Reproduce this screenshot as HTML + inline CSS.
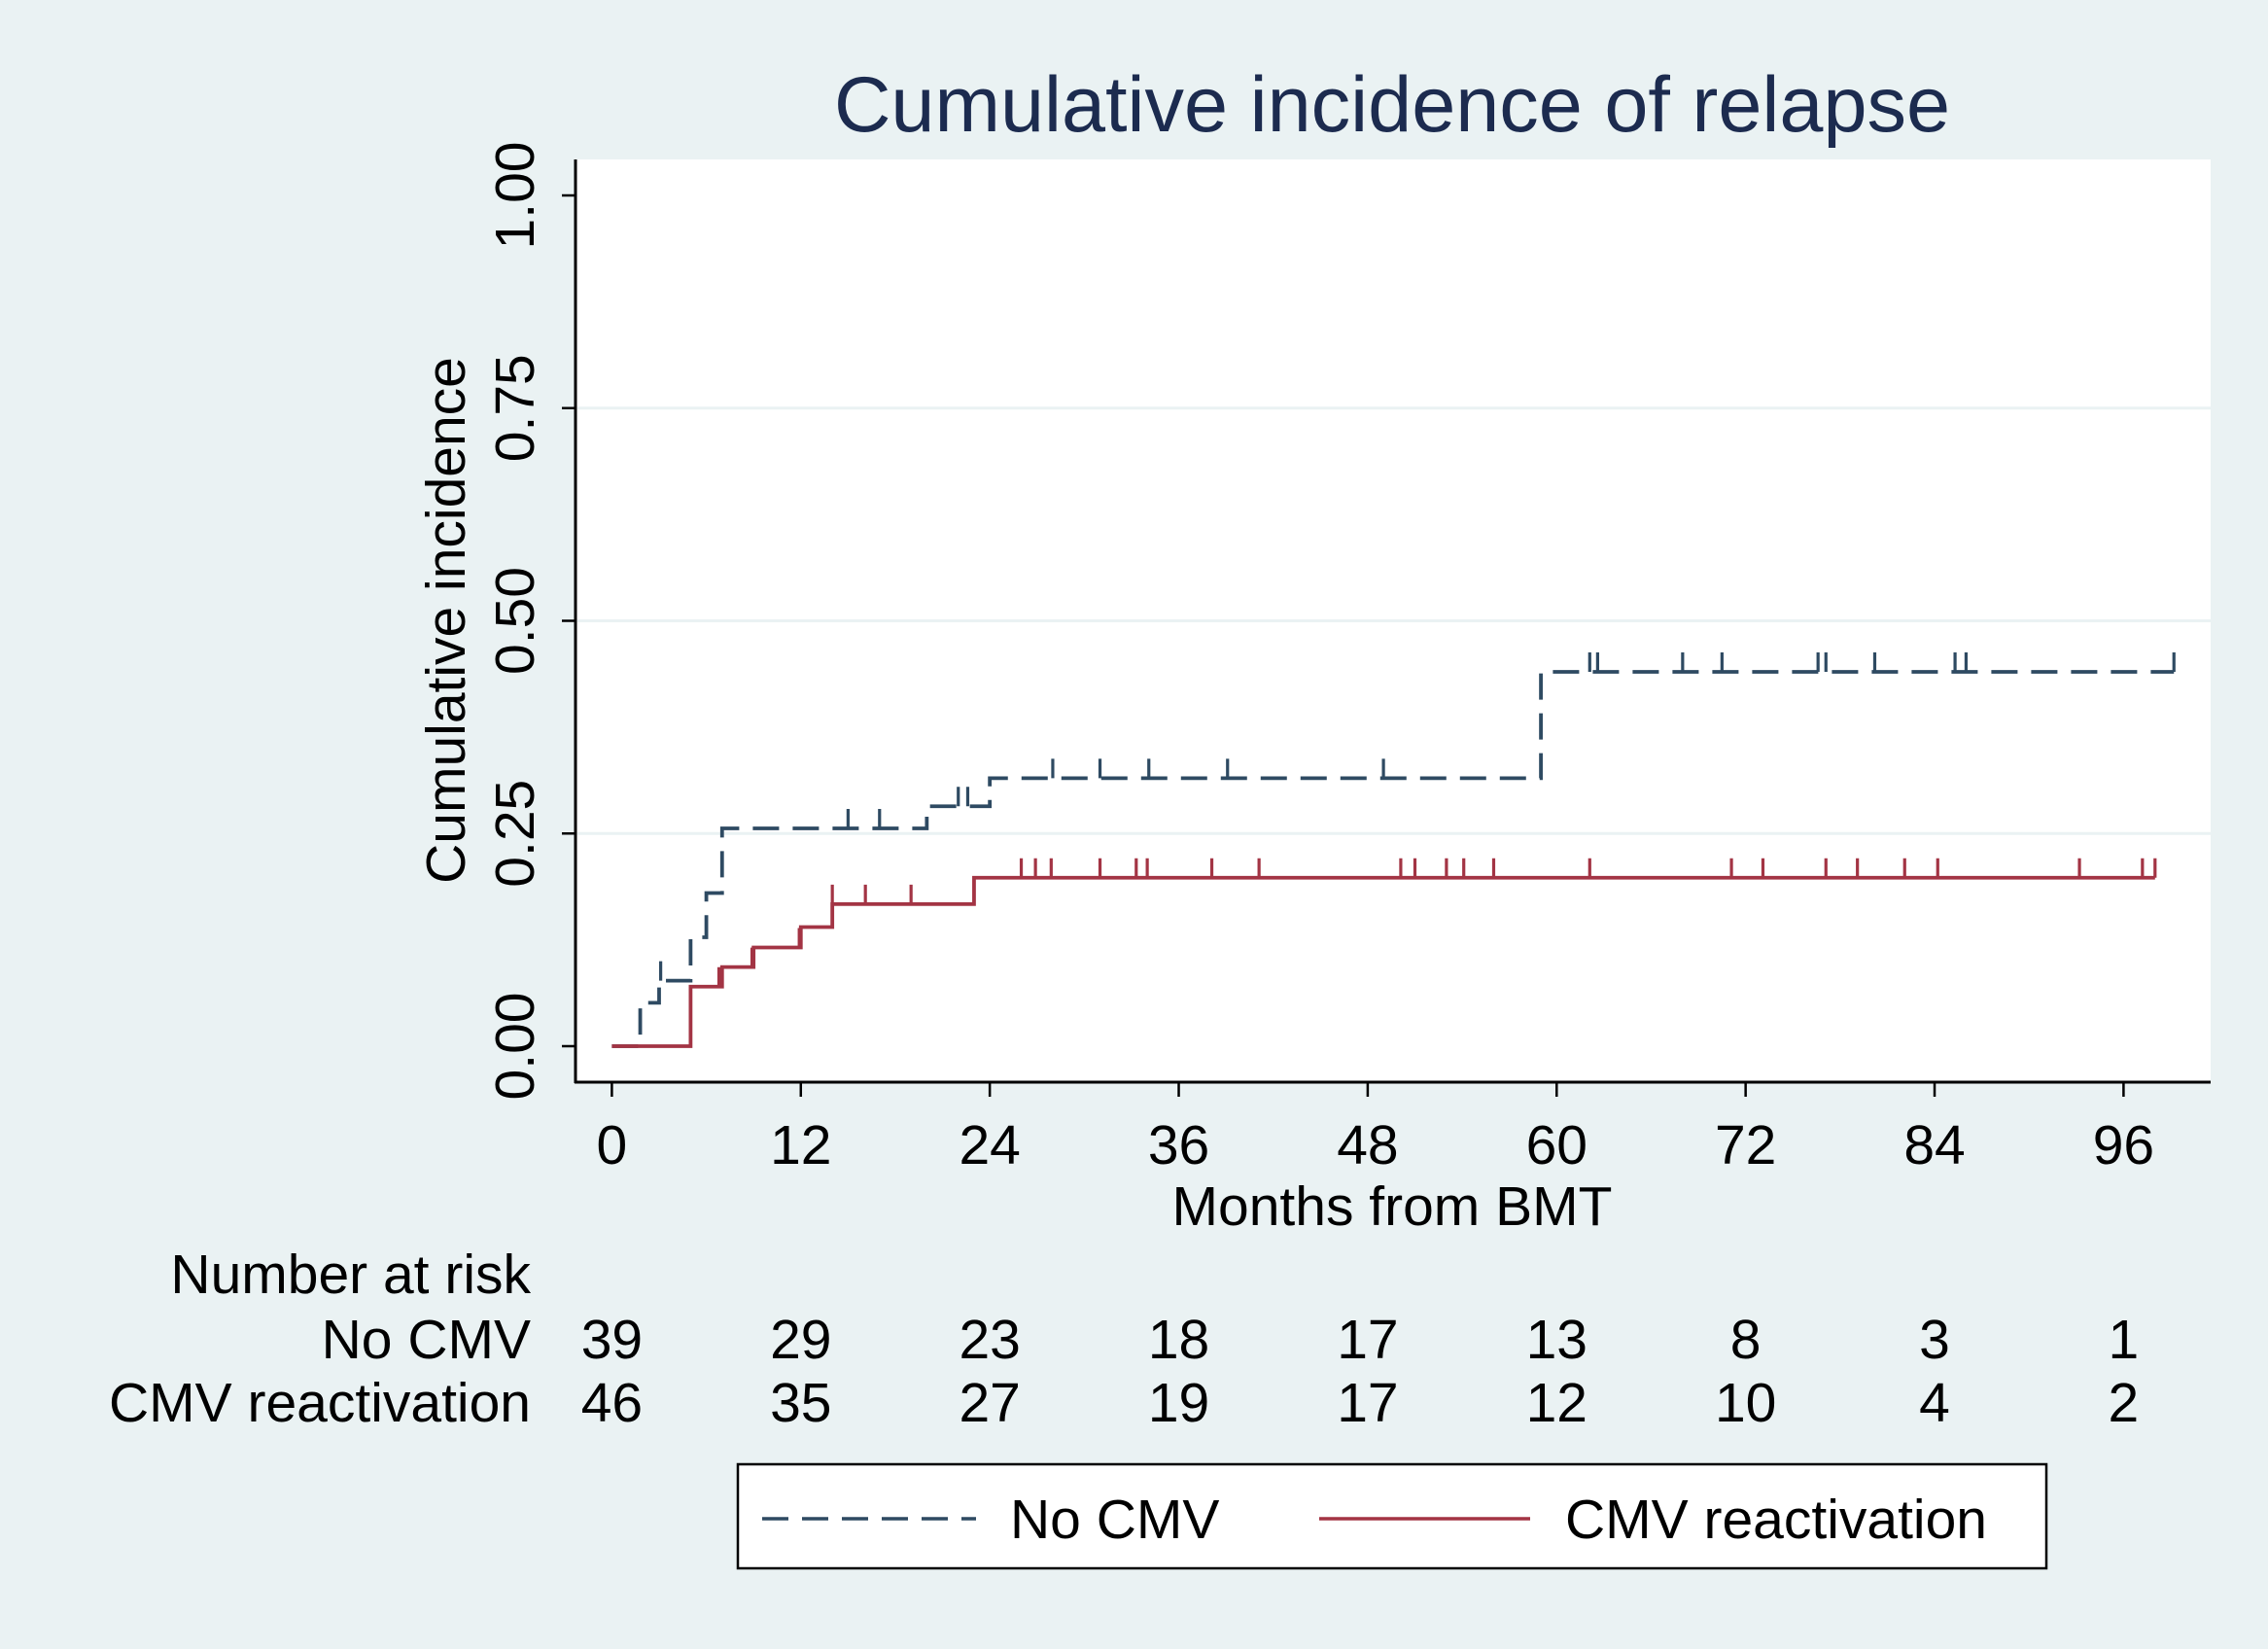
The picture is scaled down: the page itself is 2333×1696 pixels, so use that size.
<!DOCTYPE html>
<html><head><meta charset="utf-8"><style>
html,body{margin:0;padding:0;background:#eaf2f3;}
svg{display:block;font-family:"Liberation Sans",sans-serif;}
</style></head><body>
<svg id="chart" width="2333" height="1696" viewBox="0 0 2333 1696">
<rect x="0" y="0" width="2333" height="1696" fill="#eaf2f3"/>
<rect x="592" y="164" width="1682" height="949" fill="#ffffff"/>
<text x="1432" y="135" font-size="81" fill="#1c2b4f" text-anchor="middle">Cumulative incidence of relapse</text>
<g id="grid"></g>
<g id="yaxis"></g>
<g id="xaxis"></g>
<g id="series"></g>
<text transform="translate(478,638) rotate(-90)" font-size="57" fill="#000" text-anchor="middle">Cumulative incidence</text>
<text x="1432" y="1260" font-size="57" fill="#000" text-anchor="middle">Months from BMT</text>
<text x="546" y="1330" font-size="57" fill="#000" text-anchor="end">Number at risk</text>
<text x="546" y="1397" font-size="57" fill="#000" text-anchor="end">No CMV</text>
<text x="546" y="1462" font-size="57" fill="#000" text-anchor="end">CMV reactivation</text>
<g id="risk"></g>
<g>
<rect x="759" y="1506" width="1346" height="107" fill="#fff" stroke="#000" stroke-width="2.5"/>
<line x1="784" y1="1562" x2="1004" y2="1562" stroke="#2e4a62" stroke-width="3.5" stroke-dasharray="27 14"/>
<text x="1039" y="1582" font-size="57">No CMV</text>
<line x1="1357" y1="1562" x2="1574" y2="1562" stroke="#a33444" stroke-width="3.5"/>
<text x="1610" y="1582" font-size="57">CMV reactivation</text>
</g>
</svg>
<script>
const yTicks = [0, 0.25, 0.5, 0.75, 1];
const yTickLabels = ["0.00", "0.25", "0.50", "0.75", "1.00"];
const xTicks = [0, 12, 24, 36, 48, 60, 72, 84, 96];
const noCmvTimes = [0, 1.8, 3.0, 5.0, 6.0, 7.0, 20.0, 24.0, 59.0, 99.2];
const noCmvValues = [0, 0.051, 0.077, 0.128, 0.18, 0.256, 0.282, 0.315, 0.44, 0.44];
const noCmvCensor = [3.1, 15.0, 17.0, 22.0, 22.6, 28.0, 31.0, 34.1, 39.1, 49.0, 62.1, 62.6, 68.0, 70.5, 76.6, 77.1, 80.2, 85.3, 86.0, 99.2];
const cmvTimes = [0, 5.0, 7.0, 9.0, 12.0, 14.0, 23.0, 98.0];
const cmvValues = [0, 0.07, 0.093, 0.116, 0.14, 0.167, 0.198, 0.198];
const cmvCensor = [6.8, 8.9, 11.9, 14.0, 16.1, 19.0, 26.0, 26.9, 27.9, 31.0, 33.3, 34.0, 38.1, 41.1, 50.1, 51.0, 53.0, 54.1, 56.0, 62.1, 71.1, 73.1, 77.1, 79.1, 82.1, 84.2, 93.2, 97.2, 98.0];
const riskNoCmv = [39, 29, 23, 18, 17, 13, 8, 3, 1];
const riskCmv = [46, 35, 27, 19, 17, 12, 10, 4, 2];

const NS = "http://www.w3.org/2000/svg";
const X = t => 629.4 + (t / 96) * (2184.4 - 629.4);
const Y = v => 1076 - v * (1076 - 201);
function mk(tag, attrs, parent) {
  const e = document.createElementNS(NS, tag);
  for (const k in attrs) e.setAttribute(k, attrs[k]);
  parent.appendChild(e);
  return e;
}
const grid = document.getElementById('grid');
const yaxis = document.getElementById('yaxis');
const xaxis = document.getElementById('xaxis');
const series = document.getElementById('series');
const risk = document.getElementById('risk');

yTicks.forEach((v, i) => {
  if (v > 0 && v < 1) {
    const g = mk('line', {x1: 594, x2: 2274, y1: Y(v), y2: Y(v), stroke: '#eaf2f3', 'stroke-width': 3}, grid);
    
    
  }
  const tk = mk('line', {x1: 578, x2: 592, y1: Y(v), y2: Y(v), stroke: '#000', 'stroke-width': 2.5}, yaxis);
  
  
  const lb = mk('text', {transform: `translate(549,${Y(v)}) rotate(-90)`, 'font-size': 57, 'text-anchor': 'middle'}, yaxis);
  lb.textContent = yTickLabels[i];
  
  
});
const ya = mk('line', {x1: 592, x2: 592, y1: 164, y2: 1114, stroke: '#000', 'stroke-width': 3}, yaxis);


const xa = mk('line', {x1: 591, x2: 2274, y1: 1113, y2: 1113, stroke: '#000', 'stroke-width': 3}, xaxis);



xTicks.forEach((t, i) => {
  const tk = mk('line', {x1: X(t), x2: X(t), y1: 1113, y2: 1128, stroke: '#000', 'stroke-width': 2.5}, xaxis);
  
  
  const lb = mk('text', {x: X(t), y: 1197, 'font-size': 57, 'text-anchor': 'middle'}, xaxis);
  lb.textContent = String(t);
  
  
  const r1 = mk('text', {x: X(t), y: 1397, 'font-size': 57, 'text-anchor': 'middle'}, risk);
  r1.textContent = riskNoCmv[i];
  
  
  const r2 = mk('text', {x: X(t), y: 1462, 'font-size': 57, 'text-anchor': 'middle'}, risk);
  r2.textContent = riskCmv[i];
  
  
});

function stepPath(ts, vs) {
  let d = `M${X(ts[0])},${Y(vs[0])}`;
  for (let i = 1; i < ts.length; i++) {
    d += ` H${X(ts[i])} V${Y(vs[i])}`;
  }
  return d;
}
function valAt(ts, vs, t) {
  let v = vs[0];
  for (let i = 0; i < ts.length; i++) if (ts[i] <= t) v = vs[i];
  return v;
}
function drawSeries(ts, vs, cens, color, dash, name) {
  const p = mk('path', {d: stepPath(ts, vs), fill: 'none', stroke: color, 'stroke-width': 3.8}, series);
  if (dash) p.setAttribute('stroke-dasharray', dash);
  
  
  cens.forEach(t => {
    const v = valAt(ts, vs, t);
    const c = mk('line', {x1: X(t), x2: X(t), y1: Y(v), y2: Y(v) - 20, stroke: color, 'stroke-width': 3.2}, series);
    
    
  });
}
drawSeries(noCmvTimes, noCmvValues, noCmvCensor, '#2e4a62', '27 14', 'no-cmv');
drawSeries(cmvTimes, cmvValues, cmvCensor, '#a33444', null, 'cmv');
</script>
</body></html>
